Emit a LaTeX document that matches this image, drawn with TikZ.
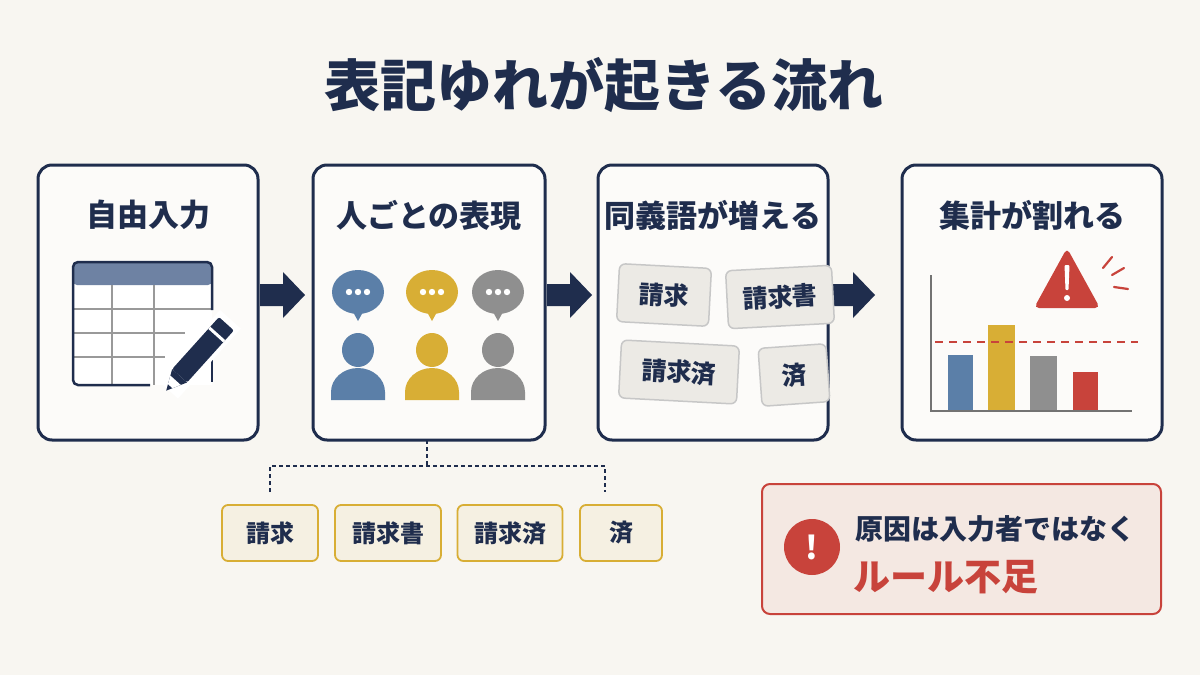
\documentclass[tikz,border=0pt]{standalone}
\usepackage{fontspec}
\setmainfont{Noto Sans CJK JP}
\usetikzlibrary{shapes.geometric}
\definecolor{bg}{HTML}{F8F6F1}
\definecolor{navy}{HTML}{1F2D4D}
\definecolor{cblue}{HTML}{5B7FA8}
\definecolor{cyel}{HTML}{D8AE35}
\definecolor{cgray}{HTML}{8F8F8F}
\definecolor{cred}{HTML}{C8433B}
\definecolor{hdr}{HTML}{6E82A3}
\begin{document}
\begin{tikzpicture}[x=1pt,y=-1pt,
 box/.style={draw=navy,line width=3pt,rounded corners=14pt,fill=white!60!bg},
 ttl/.style={font=\bfseries\fontsize{31}{36}\selectfont,text=navy},
 tag/.style={draw=black!22,fill=black!5!bg,line width=1.5pt,rounded corners=6pt,font=\bfseries\fontsize{25}{30}\selectfont,text=navy,minimum height=58pt,inner sep=6pt},
 ytag/.style={draw=cyel,fill=cyel!8!bg,line width=1.8pt,rounded corners=6pt,font=\bfseries\fontsize{24}{28}\selectfont,text=navy,minimum height=56pt,inner sep=6pt},
 barr/.style={fill=navy}]
\fill[bg] (0,0) rectangle (1200,675);
\useasboundingbox (0,0) rectangle (1200,675);
\node[font=\bfseries\fontsize{56}{64}\selectfont,text=navy] (title) at (604,85) {表記ゆれが起きる流れ};
% boxes
\draw[box] (38,165) rectangle (258,440); \node[ttl] (t1) at (148,215) {自由入力};
\draw[box] (313,165) rectangle (545,440); \node[ttl] (t2) at (429,215) {人ごとの表現};
\draw[box] (598,165) rectangle (828,440); \node[ttl] (t3) at (713,215) {同義語が増える};
\draw[box] (902,165) rectangle (1162,440); \node[ttl] (t4) at (1032,215) {集計が割れる};
% arrows
\foreach \a in {260,547,830}{
 \fill[navy] (\a,284) -- (\a+23,284) -- (\a+23,272) -- (\a+45,295) -- (\a+23,318) -- (\a+23,306) -- (\a,306) -- cycle;}
% table
\fill[white] (73,262) rectangle (212,385);
\fill[hdr,rounded corners=4pt] (73,262) rectangle (212,285);
\draw[black!40,line width=1.5pt] (73,309)--(212,309) (73,333)--(185,333) (73,357)--(165,357)
 (112,285)--(112,385) (154,285)--(154,385);
\draw[navy,line width=2.5pt,rounded corners=5pt] (73,285)--(73,385)--(150,385) (212,310)--(212,285)--(212,262)--(73,262)--(73,285);
\draw[navy,line width=2.5pt] (212,355)--(212,382);
% pencil
\begin{scope}[shift={(201,352)},rotate=48]
 \fill[white] (-50,-14) rectangle (44,14);
 \fill[navy,rounded corners=2pt] (-32,-10) rectangle (38,10);
 \fill[white] (22,-10) rectangle (25,10);
 \fill[navy] (-32,-10) -- (-52,0) -- (-32,10) -- cycle;
 \fill[white] (-38,-7) -- (-46,-3) -- (-46,3) -- (-38,7) -- cycle;
\end{scope}
% people
\foreach \x/\c in {358/cblue,432/cyel,498/cgray}{
 \fill[\c] (\x,292) ellipse (26 and 22);
 \fill[\c] (\x-5,312) -- (\x+5,312) -- (\x,321) -- cycle;
 \foreach \d in {-9,0,9} \fill[white] (\x+\d,292) circle (3.2);
 \fill[\c] (\x,350) ellipse (16 and 17);
 \fill[\c] (\x-27,400) -- (\x-27,392) arc (180:360:27 and 24) -- (\x+27,400) -- cycle;}
% tags box 3
\node[tag,rotate=-3,minimum width=92pt] (a1) at (664,295) {請求};
\node[tag,rotate=3,minimum width=106pt] (a2) at (780,297) {請求書};
\node[tag,rotate=-3,minimum width=118pt] (a3) at (679,372) {請求済};
\node[tag,rotate=4,minimum width=68pt] (a4) at (794,375) {済};
% chart
\draw[black!55,line width=2pt] (931,275) -- (931,411) -- (1132,411);
\fill[cblue] (948,355) rectangle (973,410);
\fill[cyel] (988,325) rectangle (1015,410);
\fill[cgray] (1030,356) rectangle (1057,410);
\fill[cred] (1073,372) rectangle (1098,410);
\draw[cred,line width=2.2pt,dash pattern=on 8pt off 6pt] (935,342) -- (1138,342);
\fill[cred,rounded corners=5pt] (1067,248) -- (1100,308) -- (1034,308) -- cycle;
\fill[white,rounded corners=1pt] (1064.5,265) -- (1069.5,265) -- (1068.5,290) -- (1065.5,290) -- cycle;
\fill[white] (1067,298) circle (3);
\draw[cred,line width=2.2pt,line cap=round] (1103,268)--(1112,257) (1112,275)--(1124,268) (1114,287)--(1128,289);
% bracket
\draw[navy,line width=1.5pt,dash pattern=on 4pt off 3pt] (427,440)--(427,466) (270,492)--(270,466)--(605,466)--(605,492);
\coordinate (br) at (427,466);
\node[ytag,minimum width=96pt] (b1) at (270,533) {請求};
\node[ytag,minimum width=106pt] (b2) at (388,533) {請求書};
\node[ytag,minimum width=105pt] (b3) at (510,533) {請求済};
\node[ytag,minimum width=82pt] (b4) at (621,533) {済};
% callout
\draw[cred,line width=2pt,fill=cred!8!bg,rounded corners=8pt] (762,484) rectangle (1161,614);
\node[circle,fill=cred,minimum size=56pt,text=white,font=\bfseries\fontsize{32}{36}\selectfont] (ic) at (812,547) {!};
\node[anchor=west,font=\bfseries\fontsize{28}{32}\selectfont,text=navy] (c1) at (852,529) {原因は入力者ではなく};
\node[anchor=west,font=\bfseries\fontsize{37}{42}\selectfont,text=cred] (c2) at (850,577) {ルール不足};
\end{tikzpicture}
\end{document}
